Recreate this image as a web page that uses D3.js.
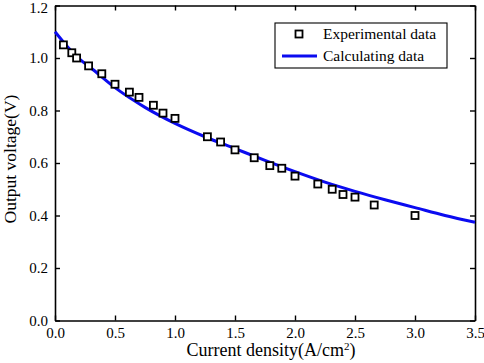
<!DOCTYPE html>
<html>
<head>
<meta charset="utf-8">
<script src="https://cdn.jsdelivr.net/npm/d3@7"></script>
<style>
  body { margin: 0; background: #fff; }
  svg { display: block; }
</style>
</head>
<body>
<div id="chart"></div>
<script>
// experimental points
var expCurrent = [0.07, 0.14, 0.18, 0.28, 0.39, 0.50, 0.62, 0.70, 0.82, 0.90, 1.00,
                  1.27, 1.38, 1.50, 1.66, 1.79, 1.89, 2.00, 2.19, 2.31, 2.40, 2.50, 2.66, 3.00];
var expVoltage = [1.05, 1.02, 1.00, 0.97, 0.94, 0.90, 0.87, 0.85, 0.82, 0.79, 0.77,
                  0.70, 0.68, 0.65, 0.62, 0.59, 0.58, 0.55, 0.52, 0.50, 0.48, 0.47, 0.44, 0.40];

// calculated curve
var calcCurrent = [0.0, 0.1, 0.2, 0.3, 0.5, 0.75, 1.0, 1.25, 1.5, 1.75, 2.0, 2.25, 2.5, 2.75, 3.0, 3.25, 3.5];
var calcVoltage = [1.10, 1.045, 0.998, 0.962, 0.887, 0.812, 0.751, 0.700, 0.655, 0.610, 0.567, 0.527, 0.492, 0.460, 0.430, 0.400, 0.374];

var xTicks = [0, 0.5, 1.0, 1.5, 2.0, 2.5, 3.0, 3.5];
var yTicks = [0, 0.2, 0.4, 0.6, 0.8, 1.0, 1.2];

var legendLabels = ["Experimental data", "Calculating data"];

var serif = "'Liberation Serif', 'Times New Roman', serif";

var margin = { top: 5.5, right: 9, bottom: 42.5, left: 55 },
    W = 484, H = 363,
    width = W - margin.left - margin.right,
    height = H - margin.top - margin.bottom;

var svg = d3.select("#chart").append("svg")
    .attr("width", W)
    .attr("height", H)
    .attr("font-family", serif);

var g = svg.append("g")
    .attr("transform", "translate(" + margin.left + "," + margin.top + ")");

var x = d3.scaleLinear().domain([0, 3.5]).range([0, width]);
var y = d3.scaleLinear().domain([0, 1.2]).range([height, 0]);

var fmt = d3.format(".1f");

// axes (ticks point inward, mirrored on top and right)
var xAxis = g.append("g")
    .attr("transform", "translate(0," + height + ")")
    .call(d3.axisBottom(x).tickValues(xTicks).tickFormat(fmt).tickSizeInner(-5).tickSizeOuter(0).tickPadding(7));
var yAxis = g.append("g")
    .call(d3.axisLeft(y).tickValues(yTicks).tickFormat(fmt).tickSizeInner(-5).tickSizeOuter(0).tickPadding(7));
var xTop = g.append("g")
    .call(d3.axisTop(x).tickValues(xTicks).tickFormat("").tickSizeInner(-5).tickSizeOuter(0));
var yRight = g.append("g")
    .attr("transform", "translate(" + width + ",0)")
    .call(d3.axisRight(y).tickValues(yTicks).tickFormat("").tickSizeInner(-5).tickSizeOuter(0));

[xAxis, yAxis, xTop, yRight].forEach(function(a) {
    a.attr("font-family", serif).attr("font-size", 15);
    a.selectAll("path.domain").attr("stroke", "#000").attr("stroke-width", 1.6);
    a.selectAll(".tick line").attr("stroke", "#000").attr("stroke-width", 1.4);
    a.selectAll(".tick text").attr("fill", "#000");
});

// top label sits right at the edge, nudge it down a little so it stays visible
yAxis.selectAll(".tick text")
    .filter(function(d) { return d === 1.2; })
    .attr("dy", "0.45em");

// calculated curve
var line = d3.line()
    .x(function(d) { return x(d[0]); })
    .y(function(d) { return y(d[1]); })
    .curve(d3.curveMonotoneX);

g.append("path")
    .datum(d3.zip(calcCurrent, calcVoltage))
    .attr("fill", "none")
    .attr("stroke", "#0b0bf0")
    .attr("stroke-width", 3)
    .attr("d", line);

// experimental squares
var sq = 7;
g.append("g").selectAll("rect")
    .data(d3.zip(expCurrent, expVoltage))
    .enter().append("rect")
    .attr("x", function(d) { return x(d[0]) - sq / 2; })
    .attr("y", function(d) { return y(d[1]) - sq / 2; })
    .attr("width", sq)
    .attr("height", sq)
    .attr("fill", "#fff")
    .attr("stroke", "#000")
    .attr("stroke-width", 1.8);

// legend
var leg = svg.append("g").attr("transform", "translate(275,23)");
leg.append("rect")
    .attr("width", 172).attr("height", 45)
    .attr("fill", "#fff").attr("stroke", "#000").attr("stroke-width", 1.1);
leg.append("rect")
    .attr("x", 24 - sq / 2).attr("y", 11 - sq / 2)
    .attr("width", sq).attr("height", sq)
    .attr("fill", "#fff").attr("stroke", "#000").attr("stroke-width", 1.8);
leg.append("line")
    .attr("x1", 7).attr("x2", 42).attr("y1", 33).attr("y2", 33)
    .attr("stroke", "#0b0bf0").attr("stroke-width", 3);
leg.selectAll("text.lab")
    .data(legendLabels)
    .enter().append("text")
    .attr("class", "lab")
    .attr("x", 48)
    .attr("y", function(d, i) { return 16 + i * 22; })
    .attr("font-size", 15.5)
    .text(function(d) { return d; });

// axis titles
var xt = svg.append("text")
    .attr("x", margin.left + width / 2 + 6)
    .attr("y", 356)
    .attr("text-anchor", "middle")
    .attr("font-size", 18);
xt.append("tspan").text("Current density(A/cm");
xt.append("tspan").attr("baseline-shift", "super").attr("font-size", 11).text("2");
xt.append("tspan").text(")");

svg.append("text")
    .attr("transform", "translate(16,159) rotate(-90)")
    .attr("text-anchor", "middle")
    .attr("font-size", 17.5)
    .text("Output voltage(V)");
</script>
</body>
</html>
